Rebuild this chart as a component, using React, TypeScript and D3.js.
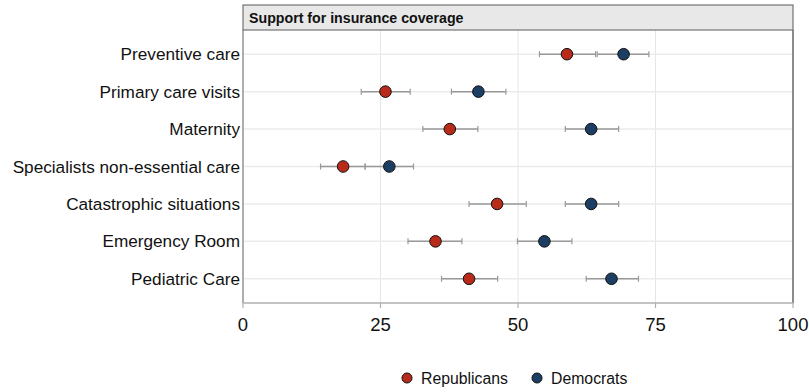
import React from "react";
import * as d3 from "d3";

const categories = [
  "Preventive care",
  "Primary care visits",
  "Maternity",
  "Specialists non-essential care",
  "Catastrophic situations",
  "Emergency Room",
  "Pediatric Care",
];
const repValues = [58.9, 25.9, 37.6, 18.2, 46.2, 35.0, 41.1];
const repLow = [53.9, 21.5, 32.7, 14.1, 41.1, 30.0, 36.1];
const repHigh = [64.1, 30.4, 42.7, 22.2, 51.5, 39.8, 46.3];
const demValues = [69.2, 42.8, 63.3, 26.6, 63.3, 54.8, 67.0];
const demLow = [64.4, 37.9, 58.6, 22.2, 58.6, 49.9, 62.4];
const demHigh = [73.8, 47.8, 68.3, 31.0, 68.3, 59.8, 71.9];
const xTicks = [0, 25, 50, 75, 100];
const seriesNames = ["Republicans", "Democrats"];
const seriesColors = ["#b82a1a", "#1c3e63"];
const title = "Support for insurance coverage";

export default function App() {
  const W = 809;
  const H = 392;
  const left = 243;
  const right = 793;
  const top = 30;
  const bottom = 303;
  const x = d3.scaleLinear().domain([0, 100]).range([left, right]);
  const y = d3.scalePoint<string>().domain(categories).range([top + 1, bottom - 1]).padding(0.62);
  const font = "Liberation Sans, Arial, sans-serif";
  const series = [
    { v: repValues, lo: repLow, hi: repHigh, c: seriesColors[0] },
    { v: demValues, lo: demLow, hi: demHigh, c: seriesColors[1] },
  ];
  return (
    <svg width={W} height={H} style={{ position: "absolute", left: 0, top: 0 }} fontFamily={font}>
      <rect x={0} y={0} width={W} height={H} fill="#fff" />
      {/* grid */}
      {xTicks.slice(1, -1).map((t) => (
        <line key={"gx" + t} x1={x(t)} x2={x(t)} y1={top} y2={bottom} stroke="#e6e6e6" strokeWidth={1} />
      ))}
      {categories.map((c) => (
        <line key={"gy" + c} x1={left} x2={right} y1={y(c)} y2={y(c)} stroke="#ebebeb" strokeWidth={1.5} />
      ))}
      {/* title bar */}
      <rect x={left} y={5} width={right - left} height={top - 5} fill="#e8e8e8" stroke="#5a5a5a" strokeWidth={1} />
      <text x={left + 6} y={23} fontSize={14.2} fontWeight="bold" fill="#111">{title}</text>
      {/* panel borders */}
      <line x1={left} x2={left} y1={top} y2={bottom} stroke="#777" strokeWidth={1.2} />
      <line x1={right} x2={right} y1={top} y2={bottom} stroke="#666" strokeWidth={1.5} />
      <line x1={left} x2={right} y1={bottom} y2={bottom} stroke="#b0b0b0" strokeWidth={1.5} />
      {xTicks.map((t) => (
        <g key={"xt" + t}>
          <line x1={x(t)} x2={x(t)} y1={bottom} y2={bottom + 5} stroke="#b0b0b0" strokeWidth={1.2} />
          <text x={x(t)} y={bottom + 28} fontSize={18.5} textAnchor="middle" fill="#111">{t}</text>
        </g>
      ))}
      {/* category labels */}
      {categories.map((c) => (
        <text key={"cl" + c} x={left - 3} y={y(c)! + 6} fontSize={17.2} textAnchor="end" fill="#111">{c}</text>
      ))}
      {/* error bars & points */}
      {series.map((s, si) =>
        categories.map((c, i) => {
          const cy = y(c)!;
          return (
            <g key={"e" + si + i}>
              <line x1={x(s.lo[i])} x2={x(s.hi[i])} y1={cy} y2={cy} stroke="#999" strokeWidth={1.5} />
              <line x1={x(s.lo[i])} x2={x(s.lo[i])} y1={cy - 3} y2={cy + 3} stroke="#999" strokeWidth={1.2} />
              <line x1={x(s.hi[i])} x2={x(s.hi[i])} y1={cy - 3} y2={cy + 3} stroke="#999" strokeWidth={1.2} />
            </g>
          );
        })
      )}
      {series.map((s, si) =>
        categories.map((c, i) => (
          <circle key={"p" + si + i} cx={x(s.v[i])} cy={y(c)!} r={5.8} fill={s.c} stroke="#111" strokeWidth={1} />
        ))
      )}
      {/* legend */}
      <circle cx={407} cy={378} r={5} fill={seriesColors[0]} stroke="#111" strokeWidth={1} />
      <text x={421} y={384} fontSize={15.8} fill="#111">{seriesNames[0]}</text>
      <circle cx={537} cy={378} r={5} fill={seriesColors[1]} stroke="#111" strokeWidth={1} />
      <text x={551} y={384} fontSize={15.8} fill="#111">{seriesNames[1]}</text>
    </svg>
  );
}
